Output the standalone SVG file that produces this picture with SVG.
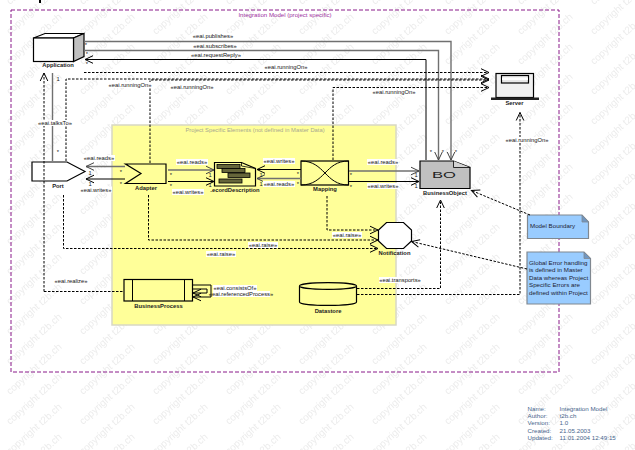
<svg xmlns="http://www.w3.org/2000/svg" width="635" height="450" viewBox="0 0 635 450">
<style>
text{font-family:"Liberation Sans",Arial,sans-serif;font-size:5.8px;fill:#000}
.wm{font-size:10px;fill:#ececec}
.n{font-weight:bold;text-anchor:middle;fill:#222}
.l{text-anchor:middle;fill:#111}
.m{text-anchor:middle;fill:#222}
.note{font-size:6.2px;fill:#223}
.meta{font-size:6.2px;fill:#48658c}
.bg{fill:#fff}
.sh{stroke:#000;stroke-width:1.2;stroke-linejoin:miter}
.s{fill:none;stroke:#000;stroke-width:1;marker-end:url(#a)}
.g{fill:none;stroke:#707070;stroke-width:1.4;marker-end:url(#ag)}
.d{fill:none;stroke:#000;stroke-width:1;stroke-dasharray:2.5 1.5;marker-end:url(#a)}
.dn{fill:none;stroke:#000;stroke-width:1;stroke-dasharray:2.5 1.5}
.nt{fill:#99ccff;stroke:#808890;stroke-width:1.2}
.fold{fill:#7096c0;stroke:#808890;stroke-width:.8}
</style>
<defs>
<marker id="a" markerUnits="userSpaceOnUse" markerWidth="12" markerHeight="10" refX="9" refY="5" orient="auto"><path d="M1,1.2L9,5L1,8.8" fill="none" stroke="#000" stroke-width="1"/></marker>
<marker id="ag" markerUnits="userSpaceOnUse" markerWidth="12" markerHeight="10" refX="9" refY="5" orient="auto"><path d="M1,1.2L9,5L1,8.8" fill="none" stroke="#444" stroke-width="1"/></marker>
<pattern id="w" patternUnits="userSpaceOnUse" width="73" height="30">
<text class="wm" transform="translate(10,5) rotate(-42)">copyright t2b.ch</text>
<text class="wm" transform="translate(10,35) rotate(-42)">copyright t2b.ch</text>
<text class="wm" transform="translate(10,65) rotate(-42)">copyright t2b.ch</text>
</pattern>
</defs>
<rect width="635" height="450" fill="#fff"/>
<rect width="635" height="450" fill="url(#w)"/>
<rect x="39" y="0" width="2" height="3" fill="#000"/>

<g id="frame">
<rect x="11" y="10" width="548" height="362" fill="none" stroke="#8a1a8a" stroke-width="1" stroke-dasharray="4 2"/>
<text x="285" y="17" style="font-size:6.1px;fill:#a030a0;text-anchor:middle">Integration Model (project specific)</text>
</g>

<g id="project-area">
<rect x="112" y="125" width="284" height="200" fill="#ffff99" stroke="#d8d8c4" stroke-width="1.5"/>
<text x="255" y="132" style="fill:#a8a890;text-anchor:middle">Project Specific Elements (not defined in Master Data)</text>
</g>

<g id="application">
<path class="sh" d="M33.5,38L45,33.5H84L73.5,38Z" fill="#fff"/>
<path class="sh" d="M73.5,38L84,33.5V56.5L73.5,61.5Z" fill="#c0c0c0"/>
<rect class="sh" x="33.5" y="38" width="40" height="23.5" fill="#fff"/>
<text class="n" x="58" y="67">Application</text>
</g>

<g id="server">
<rect class="sh" x="496" y="73.5" width="37.5" height="24" fill="#f0f0f0"/>
<rect class="sh" x="501.5" y="75.5" width="27" height="7.5" fill="#e8e8e8"/>
<rect x="502" y="77.5" width="26" height="2.5" fill="#fff"/>
<rect x="491" y="97.5" width="48" height="2.5" fill="#222"/>
<text class="n" x="514.5" y="105">Server</text>
</g>

<g id="port">
<path class="sh" d="M32,162H67L85,171.5L67,181H32Z" fill="#fff"/>
<text class="n" x="58" y="188">Port</text>
</g>

<g id="adapter">
<path class="sh" d="M125.5,164H166V183.5H125.5L141,173.5Z" fill="#ffff99"/>
<text class="n" x="146" y="190">Adapter</text>
</g>

<g id="record-description">
<path class="sh" d="M214.5,162.5H241.5L255.5,168.5V186H214.5Z" fill="#ffff99"/>
<path d="M241.5,162.5V166L255.5,168.5" fill="none" stroke="#000" stroke-width=".8"/>
<g fill="#66663a" stroke="#000" stroke-width=".8">
<rect x="217" y="164.5" width="23" height="4"/>
<rect x="222" y="168.5" width="23" height="4"/>
<rect x="228" y="173" width="22" height="4.5"/>
<rect x="219" y="179" width="23" height="4"/>
</g>
<text class="n" x="235" y="192">.ecordDescription</text>
</g>

<g id="mapping">
<rect class="sh" x="301" y="161" width="47.5" height="24" fill="#ffff99"/>
<path d="M301,161C325,161 325,185 348.500,185M348.500,161C325,161 325,185 301,185" fill="none" stroke="#000" stroke-width="1"/>
<text class="n" x="325" y="191">Mapping</text>
</g>

<g id="business-object">
<path class="sh" d="M420,161H453.500L470,167.500V188.500H420Z" fill="#c0c0c0"/>
<path d="M453.500,161V167.500H470" fill="#d4d4d4" stroke="#000" stroke-width=".8"/>
<text x="444" y="177.500" textLength="24" lengthAdjust="spacingAndGlyphs" style="font-size:9px;text-anchor:middle;fill:#222">BO</text>
<text class="n" x="445" y="195">BusinessObject</text>
</g>

<g id="notification">
<path class="sh" d="M386.500,222.500H403.500L411.500,230V241L403.500,248.500H386.500L378.500,241V230Z" fill="#fff"/>
<text class="n" x="394.500" y="255">Notification</text>
</g>

<g id="business-process">
<rect class="sh" x="124" y="279.500" width="68.500" height="21.500" fill="#ffff99"/>
<path d="M132.500,279.500V301M184.500,279.500V301" stroke="#000" stroke-width="1"/>
<text class="n" x="158.500" y="307.500">BusinessProcess</text>
</g>

<g id="datastore">
<path class="sh" d="M299.500,286V302C299.500,306.500 356.500,306.500 356.500,302V286" fill="#ffff99"/>
<ellipse class="sh" cx="328" cy="286" rx="28.500" ry="3.300" fill="#ffff99"/>
<text class="n" x="328" y="313">Datastore</text>
</g>

<g id="model-boundary">
<path class="nt" d="M527.500,215H582L588.500,222V238.500H527.500Z"/>
<path class="fold" d="M582,215V222H588.500Z"/>
<text class="note" x="530" y="228">Model Boundary</text>
</g>

<g id="error-note">
<path class="nt" d="M527,252H584L590.500,258.500V304H527Z"/>
<path class="fold" d="M584,252V258.500H590.500Z"/>
<text class="note" x="529" y="265">Global Error handling</text>
<text class="note" x="529" y="272">is defined in Master</text>
<text class="note" x="529" y="280">Data whereas Project</text>
<text class="note" x="529" y="287">Specific Errors are</text>
<text class="note" x="529" y="295">defined within Project</text>
</g>

<g id="connectors">
<path class="g" d="M84,41.500H451V160"/>
<path class="g" d="M84,50.500H438.500V160"/>
<path class="s" d="M426,160V59.500H85"/>
<path class="d" d="M84,72.500H489"/>
<path class="d" d="M66,161V79H489"/>
<path class="d" d="M150,163V80H489"/>
<path class="d" d="M333,160V87.500H489"/>
<path class="d" d="M44,291.500V73"/>
<path class="dn" d="M44,291.500H124"/>
<path d="M52.500,73V161" fill="none" stroke="#707070" stroke-width="1.400"/>
<path class="g" d="M125,166.500H86"/>
<path class="s" d="M125,179H86"/>
<path class="g" d="M168,170H214"/>
<path class="s" d="M168,181.500H214"/>
<path class="s" d="M301,169.500H257"/>
<path class="g" d="M301,178.500H257"/>
<path class="g" d="M349,171H419"/>
<path class="s" d="M349,181.500H419"/>
<path class="d" d="M327,196V230H378"/>
<path class="d" d="M148.500,195V240H378"/>
<path class="d" d="M63.500,195V248.500H378"/>
<path class="d" d="M530,215L471.500,190.500"/>
<path class="d" d="M527,269L411.500,241.500"/>
<path class="d" d="M357,288.500H440.500V200"/>
<path class="d" d="M357,294.500H520V112.500"/>
<path class="s" d="M193,285H211V297H193"/>
<path class="s" d="M193,289H207V293H193"/>

<g id="connector-labels">
<rect class="bg" x="192" y="33" width="42" height="6"/><text class="l" x="213" y="38">«eai.publishes»</text>
<rect class="bg" x="193" y="43" width="44" height="6"/><text class="l" x="215" y="48">«eai.subscribes»</text>
<rect class="bg" x="189" y="52" width="54" height="6"/><text class="l" x="216" y="57">«eai.requestReply»</text>
<rect class="bg" x="263" y="64" width="46" height="6"/><text class="l" x="286" y="69">«eai.runningOn»</text>
<rect class="bg" x="107" y="82" width="46" height="6"/><text class="l" x="130" y="87">«eai.runningOn»</text>
<rect class="bg" x="169" y="84" width="46" height="6"/><text class="l" x="192" y="89">«eai.runningOn»</text>
<rect class="bg" x="371" y="89" width="46" height="6"/><text class="l" x="394" y="94">«eai.runningOn»</text>
<rect class="bg" x="504" y="137" width="46" height="6"/><text class="l" x="527" y="142">«eai.runningOn»</text>
<rect class="bg" x="37" y="120" width="36" height="6"/><text class="l" x="55" y="125">«eai.talksTo»</text>
<rect class="bg" x="83" y="155" width="32" height="6"/><text class="l" x="99" y="160">«eai.reads»</text>
<rect class="bg" x="80" y="186.500" width="32" height="6"/><text class="l" x="96" y="191.500">«eai.writes»</text>
<rect class="bg" x="176" y="159" width="32" height="6"/><text class="l" x="192" y="164">«eai.reads»</text>
<rect class="bg" x="172" y="189" width="32" height="6"/><text class="l" x="188" y="194">«eai.writes»</text>
<rect class="bg" x="263" y="158" width="32" height="6"/><text class="l" x="279" y="163">«eai.writes»</text>
<rect class="bg" x="263" y="181" width="32" height="6"/><text class="l" x="279" y="186">«eai.reads»</text>
<rect class="bg" x="367" y="159" width="32" height="6"/><text class="l" x="383" y="164">«eai.reads»</text>
<rect class="bg" x="367" y="183" width="32" height="6"/><text class="l" x="383" y="188">«eai.writes»</text>
<rect class="bg" x="332" y="232" width="30" height="6"/><text class="l" x="347" y="237">«eai.raise»</text>
<rect class="bg" x="248" y="242" width="30" height="6"/><text class="l" x="263" y="247">«eai.raise»</text>
<rect class="bg" x="206" y="251" width="30" height="6"/><text class="l" x="221" y="256">«eai.raise»</text>
<rect class="bg" x="53" y="278" width="36" height="6"/><text class="l" x="71" y="283">«eai.realize»</text>
<rect class="bg" x="379" y="277" width="42" height="6"/><text class="l" x="400" y="282">«eai.transports»</text>
<rect class="bg" x="213" y="291" width="57" height="6"/><text class="l" x="241" y="296">«eai.referencedProcess»</text>
<rect class="bg" x="213" y="285" width="44" height="6"/><text class="l" x="235" y="290">«eai.consistsOf»</text>
<text class="m" x="86" y="47">*</text>
<text class="m" x="87" y="56">*</text>
<text class="m" x="87" y="66">*</text>
<text class="m" x="58" y="81">1</text>
<text class="m" x="58" y="154">*</text>
<text class="m" x="121" y="174">*</text>
<text class="m" x="121" y="186">*</text>
<text class="m" x="90" y="175">1</text>
<text class="m" x="90" y="185.500">1</text>
<text class="m" x="171" y="177">*</text>
<text class="m" x="171" y="188">*</text>
<text class="m" x="210" y="177">1</text>
<text class="m" x="210" y="187">1</text>
<text class="m" x="261" y="177">1</text>
<text class="m" x="261" y="186">1</text>
<text class="m" x="298" y="176">*</text>
<text class="m" x="298" y="186">*</text>
<text class="m" x="351" y="177">*</text>
<text class="m" x="351" y="189">*</text>
<text class="m" x="416" y="177">1</text>
<text class="m" x="416" y="188">1</text>
<text class="m" x="431" y="154">*</text>
<text class="m" x="443" y="154">*</text>
<text class="m" x="456" y="154">*</text>
</g>
</g>

<g id="metadata">
<text class="meta" x="527.500" y="410.500">Name:</text><text class="meta" x="559.500" y="410.500">Integration Model</text>
<text class="meta" x="527.500" y="417.500">Author:</text><text class="meta" x="559.500" y="417.500">t2b.ch</text>
<text class="meta" x="527.500" y="425">Version:</text><text class="meta" x="559.500" y="425">1.0</text>
<text class="meta" x="527.500" y="432.500">Created:</text><text class="meta" x="559.500" y="432.500">21.05.2003</text>
<text class="meta" x="527.500" y="440">Updated:</text><text class="meta" x="559.500" y="440">11.01.2004 12:49:15</text>
</g>
</svg>
